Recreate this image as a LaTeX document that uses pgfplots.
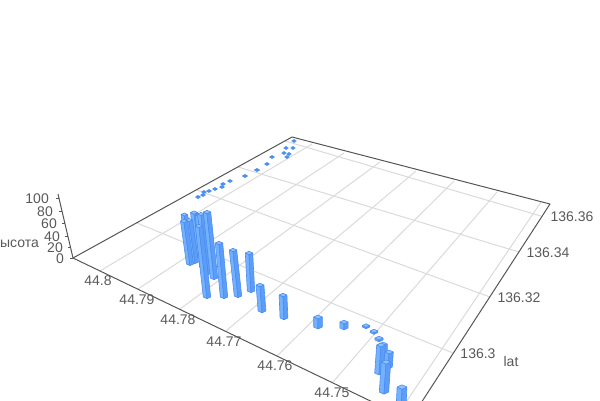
\documentclass[border=0pt]{standalone}
\usepackage{pgfplots}
\pgfplotsset{compat=1.18}
\usepackage{fontspec}
\setmainfont{Liberation Sans}
\definecolor{txt}{HTML}{595959}
\definecolor{axl}{HTML}{555555}
\definecolor{grd}{HTML}{DADADA}
\definecolor{faceL}{HTML}{74B2FF}
\definecolor{faceR}{HTML}{5C9EF7}
\definecolor{edge}{HTML}{4A8CF0}
\definecolor{topc}{HTML}{8EC2FF}
\definecolor{dot}{HTML}{4D90F0}
% one bar: x top, y top, x base, y base, half width (pixel positions of the projected view)
\newcommand{\prism}[5]{%
  \pgfmathsetmacro{\hw}{#5+0.5}%
  \pgfmathsetmacro{\xa}{#1-\hw}\pgfmathsetmacro{\xb}{#1+\hw}%
  \pgfmathsetmacro{\xc}{#3-\hw}\pgfmathsetmacro{\xd}{#3+\hw}%
  \pgfmathsetmacro{\ytu}{#2-0.45*\hw}\pgfmathsetmacro{\ytd}{#2+0.45*\hw}%
  \pgfmathsetmacro{\ybd}{#4+0.45*\hw}%
  \edef\doit{%
  \noexpand\addplot[draw=edge,line width=0.6pt,fill=faceL,forget plot] coordinates {(\xa,#2) (#1,\ytd) (#3,\ybd) (\xc,#4) (\xa,#2)};
  \noexpand\addplot[draw=edge,line width=0.6pt,fill=faceR,forget plot] coordinates {(\xb,#2) (#1,\ytd) (#3,\ybd) (\xd,#4) (\xb,#2)};
  \noexpand\addplot[draw=edge,line width=0.6pt,fill=topc,forget plot] coordinates {(\xa,#2) (#1,\ytu) (\xb,#2) (#1,\ytd) (\xa,#2)};
  }\doit}
% one very low bar: x, y, half width
\newcommand{\stub}[3]{%
  \pgfmathsetmacro{\xa}{#1-#3-0.3}\pgfmathsetmacro{\xb}{#1+#3+0.3}%
  \pgfmathsetmacro{\yu}{#2-2}\pgfmathsetmacro{\yd}{#2+2}%
  \edef\doit{%
  \noexpand\addplot[draw=none,fill=dot,forget plot] coordinates {(\xa,#2) (#1,\yu) (\xb,#2) (#1,\yd) (\xa,#2)};
  }\doit}
\begin{document}
\begin{tikzpicture}[x=1pt,y=1pt]
\path[use as bounding box,clip] (0,0) rectangle (600,400);
\begin{axis}[at={(0pt,0pt)},anchor=south west,scale only axis,width=600pt,height=400pt,
  xmin=0,xmax=600,ymin=0,ymax=400,y dir=reverse,hide axis,clip=true,
  every axis plot/.append style={line join=round}]
% grid: lines from the lat axis
\addplot[grd,line width=1pt,forget plot] coordinates {(100,271) (312,144)};
\addplot[grd,line width=1pt,forget plot] coordinates {(138,289) (344,153)};
\addplot[grd,line width=1pt,forget plot] coordinates {(180,309) (380,162)};
\addplot[grd,line width=1pt,forget plot] coordinates {(226,331) (416,171)};
\addplot[grd,line width=1pt,forget plot] coordinates {(277,356) (454,181)};
\addplot[grd,line width=1pt,forget plot] coordinates {(333,382) (497,192)};
\addplot[grd,line width=1pt,forget plot] coordinates {(398,414) (541,202)};
\addplot[grd,line width=1pt,forget plot] coordinates {(285,141) (541,216)};
\addplot[grd,line width=1pt,forget plot] coordinates {(238,167) (519,252)};
\addplot[grd,line width=1pt,forget plot] coordinates {(197,190) (490,297)};
\addplot[grd,line width=1pt,forget plot] coordinates {(137,223) (453,353)};
% frame
\addplot[axl,line width=1pt,forget plot] coordinates {(73,258) (292,137) (550,204) (410,420)};
\addplot[axl,line width=1pt,forget plot] coordinates {(73,258) (410,420)};
\addplot[axl,line width=1pt,forget plot] coordinates {(73,258) (58,194)};
\addplot[axl,line width=1pt,forget plot] coordinates {(73,258) (70,258)};
\addplot[axl,line width=1pt,forget plot] coordinates {(70.6,247) (67.6,247)};
\addplot[axl,line width=1pt,forget plot] coordinates {(68,236) (65,236)};
\addplot[axl,line width=1pt,forget plot] coordinates {(65,223) (62,223)};
\addplot[axl,line width=1pt,forget plot] coordinates {(62,211) (59,211)};
\addplot[axl,line width=1pt,forget plot] coordinates {(59,198) (56,198)};
% very low bars at the far side
\stub{294}{141}{2.4}\stub{286}{148}{2.4}\stub{293}{148}{2.4}\stub{284}{153}{2.4}
\stub{289}{154}{2.4}\stub{287}{157}{2.4}\stub{272}{157}{2.6}\stub{267}{164}{2.6}
\stub{257}{170}{3}\stub{245}{176}{3}\stub{230}{181}{2.6}\stub{223}{184}{2.6}
\stub{222}{187}{2.6}\stub{215}{189}{2.6}\stub{209}{191}{2.6}\stub{204}{192}{2.6}
\stub{203}{195}{2.6}\stub{198}{197}{2.8}
% bars, far to near
\prism{184.3}{214.5}{190}{255}{2.8}
\prism{194}{212.5}{200}{257}{3}
\prism{189}{220}{195}{262}{3}
\prism{184}{221}{190}{264}{3}
\prism{199}{215}{203}{267}{3}
\prism{201}{214}{208}{273}{3}
\prism{207}{212}{214}{278}{3.2}
\prism{199}{226}{207}{297}{3.2}
\prism{219}{243}{224}{297}{3.2}
\prism{233}{250}{238}{296}{3.2}
\prism{249}{253}{251}{291}{3.2}
\prism{260}{285}{262}{311}{3.4}
\prism{283}{295}{284}{318}{3.4}
\prism{318}{317}{318}{327}{3.8}
\prism{344}{322}{344}{328}{3.6}
\prism{366}{325.5}{366}{327}{3.2}
\prism{374}{331}{374}{332.5}{3.4}
\prism{379}{338}{379}{340}{3.6}
\prism{383}{344}{383}{360}{3.8}
\prism{381}{345}{379}{373}{3.8}
\prism{389}{352}{388}{367}{3.8}
\prism{386}{362}{384}{392}{4.2}
\prism{402}{387}{400}{430}{4.4}
% labels
\begin{scope}[every node/.style={text=txt,font=\fontsize{14}{16}\selectfont,inner sep=0pt}]
\node[anchor=east] at (axis cs:64,259) {0};
\node[anchor=east] at (axis cs:63,248) {20};
\node[anchor=east] at (axis cs:60,237) {40};
\node[anchor=east] at (axis cs:57,224) {60};
\node[anchor=east] at (axis cs:53,212) {80};
\node[anchor=east] at (axis cs:49,199) {100};
\node[anchor=east] at (axis cs:39,244) {высота};
\node at (axis cs:98,281) {44.8};
\node at (axis cs:137,300) {44.79};
\node at (axis cs:178,320) {44.78};
\node at (axis cs:224,342) {44.77};
\node at (axis cs:275,366) {44.76};
\node at (axis cs:332,393) {44.75};
\node at (axis cs:572,217) {136.36};
\node at (axis cs:548,253) {136.34};
\node at (axis cs:519,298) {136.32};
\node at (axis cs:478,354) {136.3};
\node at (axis cs:511,361) {lat};
\end{scope}
\end{axis}
\end{tikzpicture}
\end{document}
